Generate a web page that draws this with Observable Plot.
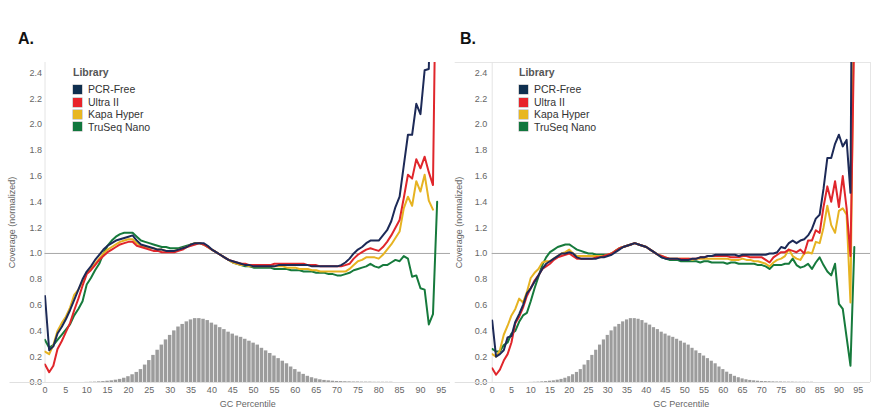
<!DOCTYPE html>
<html>
<head>
<meta charset="utf-8">
<script src="https://cdn.jsdelivr.net/npm/d3@7"></script>
<script src="https://cdn.jsdelivr.net/npm/@observablehq/plot@0.6"></script>
<style>
  body { margin: 0; background: #fff; font-family: "Liberation Sans", Arial, sans-serif; }
  #wrap { position: relative; width: 874px; height: 411px; overflow: hidden; }
  .panel { position: absolute; top: 0; }
  .title { position: absolute; top: 30px; font-weight: bold; font-size: 16px; color: #111; }
  .legend { position: absolute; top: 66px; font-size: 10.5px; color: #333; line-height: 12.4px; }
  .legend .head { font-weight: bold; color: #555; font-size: 10.5px; margin-bottom: 5px; }
  .legend .row { display: flex; align-items: center; }
  .legend .sw { width: 9px; height: 9px; margin-right: 6px; box-shadow: 0 0 0 0.5px #aaa; }
</style>
</head>
<body>
<div id="wrap"></div>
<script>
// ---------- data ----------
const seriesNames = ["PCR-Free", "Ultra II", "Kapa Hyper", "TruSeq Nano"];
const seriesColors = ["#1d2a57", "#e0262b", "#e6b322", "#167a3c"];
const legendColors = ["#0f2f4f", "#e8242a", "#e8b721", "#11773d"];
const gcPercentile = d3.range(0, 95); // 0..94
const xTicks = [0,5,10,15,20,25,30,35,40,45,50,55,60,65,70,75,80,85,90,95];
const yTicks = [0,0.2,0.4,0.6,0.8,1.0,1.2,1.4,1.6,1.8,2.0,2.2,2.4];

// GC histogram (fraction of windows), percentile 0..83
const gcHist = [0,0,0,0,0,0,0,0,0,0,
  0.001,0.002,0.003,0.005,0.007,0.010,0.013,0.018,0.024,0.033,
  0.045,0.060,0.078,0.100,0.135,0.170,0.210,0.250,0.290,0.330,
  0.365,0.400,0.430,0.450,0.470,0.485,0.495,0.495,0.490,0.480,
  0.460,0.445,0.425,0.410,0.390,0.375,0.360,0.350,0.335,0.320,
  0.305,0.290,0.265,0.245,0.225,0.205,0.185,0.165,0.145,0.120,
  0.100,0.080,0.063,0.048,0.037,0.028,0.021,0.016,0.013,0.010,
  0.008,0.007,0.006,0.005,0.004,0.004,0.003,0.003,0.003,0.002,
  0.002,0.002,0.002,0.002];

// Panel A
const aPcrFree = [0.67,0.25,0.28,0.38,0.43,0.49,0.56,0.64,0.72,0.80,
  0.86,0.90,0.95,0.99,1.03,1.06,1.08,1.10,1.11,1.12,
  1.13,1.14,1.10,1.07,1.06,1.05,1.04,1.03,1.03,1.02,
  1.02,1.02,1.03,1.04,1.05,1.07,1.08,1.08,1.08,1.06,
  1.03,1.01,0.99,0.97,0.95,0.94,0.93,0.92,0.91,0.91,
  0.90,0.90,0.90,0.90,0.90,0.90,0.91,0.91,0.91,0.91,
  0.91,0.91,0.91,0.91,0.90,0.90,0.90,0.90,0.90,0.90,
  0.90,0.91,0.93,0.96,1.00,1.03,1.05,1.08,1.10,1.10,
  1.10,1.14,1.18,1.25,1.36,1.44,1.68,1.92,1.92,2.16,
  2.08,2.42,2.43,4.00,4.20];
const aUltraII = [0.14,0.08,0.13,0.26,0.32,0.39,0.46,0.56,0.65,0.75,
  0.84,0.87,0.91,0.95,0.98,1.01,1.03,1.05,1.07,1.08,
  1.09,1.09,1.06,1.05,1.04,1.03,1.02,1.02,1.01,1.01,
  1.01,1.01,1.02,1.03,1.05,1.06,1.07,1.08,1.07,1.05,
  1.03,1.01,0.99,0.97,0.95,0.94,0.93,0.92,0.92,0.91,
  0.91,0.91,0.91,0.91,0.91,0.92,0.92,0.92,0.92,0.92,
  0.92,0.92,0.92,0.91,0.91,0.91,0.90,0.90,0.90,0.90,
  0.90,0.90,0.91,0.92,0.96,0.99,1.01,1.03,1.04,1.03,
  1.02,1.05,1.09,1.14,1.20,1.26,1.43,1.61,1.58,1.73,
  1.66,1.75,1.63,1.53,4.00];
const aKapaHyper = [0.24,0.22,0.29,0.40,0.46,0.51,0.58,0.68,0.72,0.78,
  0.85,0.88,0.92,0.96,1.00,1.03,1.05,1.07,1.09,1.10,
  1.11,1.11,1.08,1.06,1.05,1.04,1.04,1.03,1.03,1.02,
  1.02,1.02,1.03,1.04,1.05,1.07,1.08,1.08,1.07,1.05,
  1.03,1.01,0.99,0.97,0.95,0.93,0.92,0.91,0.91,0.90,
  0.90,0.90,0.90,0.90,0.90,0.90,0.90,0.90,0.89,0.89,
  0.89,0.88,0.88,0.88,0.87,0.87,0.86,0.86,0.86,0.86,
  0.86,0.86,0.86,0.88,0.91,0.94,0.95,0.97,0.97,0.97,
  0.96,0.99,1.03,1.07,1.12,1.17,1.35,1.44,1.37,1.56,
  1.48,1.61,1.41,1.34];
const aTruSeqNano = [0.33,0.27,0.29,0.33,0.37,0.41,0.45,0.52,0.57,0.63,
  0.76,0.81,0.87,0.92,1.00,1.06,1.10,1.13,1.15,1.16,
  1.16,1.16,1.13,1.10,1.09,1.08,1.07,1.06,1.05,1.05,
  1.04,1.04,1.04,1.05,1.06,1.07,1.08,1.08,1.07,1.05,
  1.03,1.01,0.99,0.97,0.95,0.93,0.92,0.91,0.90,0.90,
  0.89,0.89,0.89,0.89,0.89,0.88,0.88,0.88,0.88,0.87,
  0.87,0.87,0.86,0.86,0.86,0.85,0.85,0.85,0.84,0.84,
  0.83,0.83,0.84,0.85,0.87,0.88,0.89,0.90,0.92,0.90,
  0.89,0.91,0.91,0.93,0.95,0.94,0.98,0.96,0.82,0.83,
  0.73,0.72,0.45,0.53,1.40];

// Panel B
const bPcrFree = [0.48,0.20,0.22,0.25,0.35,0.36,0.47,0.53,0.60,0.69,
  0.73,0.78,0.83,0.88,0.92,0.94,0.96,0.98,1.00,1.00,
  1.01,1.00,0.97,0.96,0.96,0.96,0.96,0.96,0.97,0.97,
  0.98,0.99,1.01,1.03,1.05,1.06,1.07,1.08,1.07,1.06,
  1.05,1.03,1.01,0.99,0.97,0.96,0.96,0.96,0.96,0.95,
  0.95,0.95,0.96,0.96,0.97,0.97,0.98,0.98,0.99,0.99,
  0.99,0.99,0.99,0.99,0.98,0.99,0.99,0.99,0.99,0.99,
  0.99,0.99,1.00,1.00,1.01,1.05,1.04,1.08,1.10,1.08,
  1.10,1.11,1.14,1.19,1.27,1.30,1.50,1.74,1.74,1.85,
  1.92,1.83,1.88,1.47,6.00];
const bUltraII = [0.11,0.06,0.10,0.17,0.22,0.31,0.46,0.51,0.58,0.67,
  0.73,0.79,0.83,0.88,0.90,0.92,0.95,0.97,0.98,0.99,
  1.00,0.98,0.96,0.96,0.96,0.96,0.96,0.97,0.97,0.98,
  0.99,1.00,1.02,1.04,1.05,1.06,1.07,1.08,1.07,1.06,
  1.05,1.03,1.01,0.99,0.98,0.97,0.96,0.96,0.96,0.96,
  0.96,0.96,0.96,0.96,0.97,0.97,0.98,0.98,0.98,0.98,
  0.98,0.98,0.97,0.97,0.97,0.98,0.98,0.97,0.97,0.97,
  0.97,0.95,0.93,0.97,0.99,1.01,1.01,1.03,1.02,1.01,
  1.03,1.00,1.10,1.10,1.18,1.16,1.36,1.52,1.40,1.56,
  1.36,1.60,1.35,0.98,2.75];
const bKapaHyper = [0.22,0.20,0.25,0.37,0.44,0.52,0.57,0.65,0.62,0.70,
  0.81,0.85,0.88,0.93,0.94,0.94,0.96,0.98,1.00,1.01,
  1.03,1.00,0.98,0.98,0.98,0.98,0.98,0.98,0.98,0.98,
  0.99,1.00,1.02,1.04,1.05,1.06,1.07,1.08,1.07,1.06,
  1.05,1.03,1.01,0.99,0.98,0.97,0.96,0.96,0.96,0.96,
  0.96,0.96,0.95,0.96,0.96,0.96,0.96,0.96,0.96,0.96,
  0.96,0.96,0.95,0.95,0.95,0.96,0.95,0.95,0.94,0.94,
  0.93,0.92,0.90,0.93,0.95,0.96,0.98,1.03,0.98,0.96,
  0.95,1.00,1.01,1.00,1.09,1.08,1.20,1.37,1.22,1.16,
  1.33,1.35,1.30,0.62,3.20];
const bTruSeqNano = [0.26,0.24,0.24,0.29,0.31,0.38,0.40,0.47,0.52,0.54,
  0.63,0.73,0.82,0.91,0.97,1.01,1.03,1.05,1.06,1.07,
  1.07,1.05,1.03,1.02,1.01,1.00,1.00,0.99,0.99,0.99,
  0.99,1.00,1.02,1.04,1.05,1.06,1.07,1.08,1.07,1.06,
  1.05,1.03,1.01,0.99,0.97,0.96,0.95,0.95,0.95,0.94,
  0.94,0.94,0.94,0.94,0.93,0.94,0.94,0.93,0.93,0.93,
  0.93,0.92,0.93,0.93,0.92,0.92,0.92,0.92,0.92,0.91,
  0.91,0.90,0.88,0.91,0.91,0.91,0.92,0.92,0.96,0.91,
  0.89,0.90,0.92,0.88,0.93,0.97,0.91,0.86,0.83,0.92,
  0.61,0.57,0.35,0.13,1.05];

// ---------- build tables ----------
function longTable(arrays) {
  const rows = [];
  // draw order: TruSeq Nano, Kapa Hyper, Ultra II, PCR-Free (PCR-Free on top)
  [3, 2, 1, 0].forEach(i => {
    arrays[i].forEach((v, p) => rows.push({series: seriesNames[i], p: gcPercentile[p], v}));
  });
  return rows;
}
const histRows = gcHist.map((v, p) => ({p, v}));
const tableA = longTable([aPcrFree, aUltraII, aKapaHyper, aTruSeqNano]);
const tableB = longTable([bPcrFree, bUltraII, bKapaHyper, bTruSeqNano]);

function makePanel(rows, opts) {
  return Plot.plot({
    width: opts.width,
    height: 411,
    marginLeft: opts.marginLeft,
    marginRight: opts.marginRight,
    marginTop: 62,
    marginBottom: 29,
    style: {fontFamily: "'Liberation Sans', Arial, sans-serif", fontSize: "9px", color: "#666", background: "transparent", overflow: "visible"},
    x: {domain: [0, opts.xmax], ticks: xTicks, tickSize: 0, tickPadding: 4,
        label: "GC Percentile", labelAnchor: "center", labelOffset: 24, labelArrow: "none"},
    y: {domain: [0, 2.48], ticks: yTicks, tickFormat: ".1f", tickSize: 0, tickPadding: opts.tickPadY,
        label: "Coverage (normalized)", labelAnchor: "center", labelOffset: opts.yLabelOffset, labelArrow: "none"},
    color: {domain: seriesNames, range: seriesColors},
    marks: [
      opts.frame ? Plot.ruleY([2.48], {stroke: "#e6e6e6", insetLeft: -37}) : null,
      opts.frame ? Plot.ruleX([opts.xmax], {stroke: "#e6e6e6"}) : null,
      Plot.ruleX([0], {stroke: "#e4e4e4"}),
      Plot.ruleY([0], {stroke: "#e0e0e0", insetLeft: opts.baseInset}),
      Plot.rectY(histRows, {x1: d => d.p - 0.5, x2: d => d.p + 0.5, y: "v", fill: "#9c9c9c", insetLeft: 0.35, insetRight: 0.35}),
      Plot.ruleY([1], {stroke: "#a8a8a8", strokeWidth: 1}),
      Plot.line(rows, {x: "p", y: "v", z: "series", stroke: "series", strokeWidth: 2, clip: true})
    ]
  });
}

const wrap = document.getElementById("wrap");

function addPanel(left, svg) {
  const d = document.createElement("div");
  d.className = "panel";
  d.style.left = left + "px";
  d.appendChild(svg);
  wrap.appendChild(d);
}
addPanel(0, makePanel(tableA, {width: 452, marginLeft: 44.5, marginRight: 2, xmax: 97.2, tickPadY: 3, yLabelOffset: 36, baseInset: -35, frame: false}));
addPanel(450, makePanel(tableB, {width: 424, marginLeft: 41.7, marginRight: 4, xmax: 98.2, tickPadY: 5, yLabelOffset: 37, baseInset: -37, frame: true}));

function addTitle(text, left) {
  const t = document.createElement("div");
  t.className = "title";
  t.style.left = left + "px";
  t.textContent = text;
  wrap.appendChild(t);
}
addTitle("A.", 18);
addTitle("B.", 460);

function addLegend(left) {
  const lg = document.createElement("div");
  lg.className = "legend";
  lg.style.left = left + "px";
  const h = document.createElement("div");
  h.className = "head";
  h.textContent = "Library";
  lg.appendChild(h);
  seriesNames.forEach((n, i) => {
    const r = document.createElement("div");
    r.className = "row";
    const s = document.createElement("span");
    s.className = "sw";
    s.style.background = legendColors[i];
    const t = document.createElement("span");
    t.textContent = n;
    r.appendChild(s); r.appendChild(t);
    lg.appendChild(r);
  });
  wrap.appendChild(lg);
}
addLegend(73);
addLegend(519);
</script>
</body>
</html>
